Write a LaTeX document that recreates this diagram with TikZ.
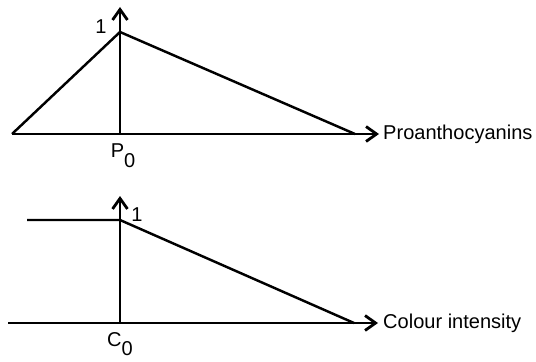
\documentclass[tikz,border=0pt]{standalone}
\usepackage{fontspec}
\setmainfont{Liberation Sans}
\usetikzlibrary{arrows.meta}

\begin{document}
\begin{tikzpicture}[
  x=0.02cm, y=-0.02cm,
  font=\fontsize{11.4}{14}\selectfont,
  line width=1.4pt,
  axis/.style={-{Straight Barb[length=6pt,width=8.5pt,line width=1.6pt]}},
  lab/.style={inner sep=0pt}
]
  \useasboundingbox (0,0) rectangle (536,361);

  % top graph
  \coordinate (tl) at (12,134);
  \coordinate (to) at (120,134);
  \coordinate (tpk) at (120,32);
  \coordinate (ttop) at (120,7);
  \coordinate (tr) at (355,134);
  \coordinate (tend) at (379,134);
  \draw (tl) -- (tpk) -- (tr);
  \draw[axis] (to) -- (ttop);
  \draw[axis] (tl) -- (tend);
  \node[lab, anchor=west] (tname) at (382,134) {Proanthocyanins};
  \node[lab] (tone) at (101,27) {1};
  \node[lab, anchor=north] (tzero) at (123,142) {P\raisebox{-1ex}{0}};

  % bottom graph
  \coordinate (bl) at (8,323);
  \coordinate (bo) at (120,323);
  \coordinate (bpl) at (27,220);
  \coordinate (bpk) at (120,220);
  \coordinate (btop) at (120,196);
  \coordinate (br) at (354,323);
  \coordinate (bend) at (378,323);
  \draw (bpl) -- (bpk) -- (br);
  \draw[axis] (bo) -- (btop);
  \draw[axis] (bl) -- (bend);
  \node[lab, anchor=west] (bname) at (382,323) {Colour intensity};
  \node[lab] (bone) at (137,215) {1};
  \node[lab, anchor=north] (bzero) at (120,331) {C\raisebox{-0.9ex}{0}};
\end{tikzpicture}
\end{document}
